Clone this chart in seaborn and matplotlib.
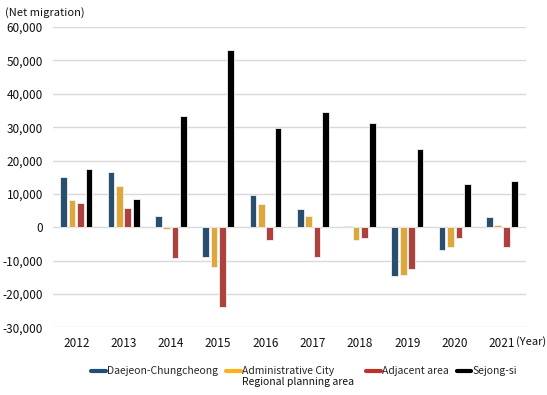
#!/usr/bin/python3

import matplotlib.pyplot as plt
from matplotlib.lines import Line2D
from matplotlib.ticker import FuncFormatter
import pandas as pd
import seaborn as sns


years = ['2012', '2013', '2014', '2015', '2016', '2017', '2018', '2019', '2020', '2021']
regions = ['Daejeon-Chungcheong', 'Administrative City\nRegional planning area', 'Adjacent area', 'Sejong-si']
colors = ['#1f4e79', '#f9b21d', '#c0302a', '#000000']

daejeon = [15000, 16700, 3300, -8900, 9600, 5500, 400, -14500, -6900, 3000]
admin_city = [8100, 12300, -400, -11900, 7100, 3500, -3700, -14300, -5800, 600]
adjacent = [7200, 5700, -9100, -23800, -3700, -8800, -3200, -12400, -3200, -6000]
sejong = [17400, 8600, 33400, 53000, 29700, 34600, 31300, 23600, 13000, 14000]


def main():
	''' draw the net migration chart'''

	df = pd.DataFrame({
		'year': years * 4,
		'region': [r for r in regions for _ in years],
		'value': daejeon + admin_city + adjacent + sejong,
	})

	sns.set_style('white')
	plt.rcParams['font.family'] = ['Noto Sans CJK KR', 'DejaVu Sans']

	fig = plt.figure(figsize=(5.47, 3.95), dpi=100)
	ax = fig.add_axes([0.0963, 0.171, 0.8647, 0.7606])

	sns.barplot(data=df, x='year', y='value', hue='region', hue_order=regions,
		palette=colors, width=0.71, gap=0.2, edgecolor='#f2f2f2', linewidth=0.6,
		legend=False, ax=ax, zorder=3)

	ax.set_ylim(-30000, 60000)
	ax.set_yticks(range(-30000, 60001, 10000))
	ax.yaxis.set_major_formatter(FuncFormatter(lambda v, p: '{:,.0f}'.format(v)))
	ax.set_xlim(-0.5, len(years) - 0.5)
	ax.grid(axis='y', color='#d9d9d9', linewidth=1, zorder=0)
	for s in ax.spines.values():
		s.set_visible(False)
	ax.tick_params(axis='both', length=0, labelsize=8.5, colors='#111111')
	ax.tick_params(axis='y', pad=7)
	ax.tick_params(axis='x', pad=7)
	ax.set_xlabel('')
	ax.set_ylabel('')

	fig.text(0.009, 0.968, '(Net migration)', fontsize=8, va='center', ha='left', color='#111111')
	fig.text(0.943, 0.135, '(Year)', fontsize=8, va='center', ha='left', color='#111111')

	# legend: first line of each label, second line of the admin label added below
	first_lines = [r.split('\n')[0] for r in regions]
	first_lines[1] = first_lines[1] + '          '
	handles = [Line2D([0], [0], color=c, linewidth=3) for c in colors]
	leg = fig.legend(handles, first_lines, loc='center', bbox_to_anchor=(0.556, 0.06),
		ncol=4, frameon=False, fontsize=7.5, handlelength=1.4, handletextpad=0.1,
		columnspacing=0.8, borderaxespad=0)

	fig.canvas.draw()
	bb = leg.get_texts()[1].get_window_extent().transformed(fig.transFigure.inverted())
	fig.text(bb.x0, bb.y0 - 0.003, regions[1].split('\n')[1], fontsize=7.5,
		ha='left', va='top', color='#111111')

	plt.savefig('out.png', dpi=100)


if __name__ == '__main__':
	main()
